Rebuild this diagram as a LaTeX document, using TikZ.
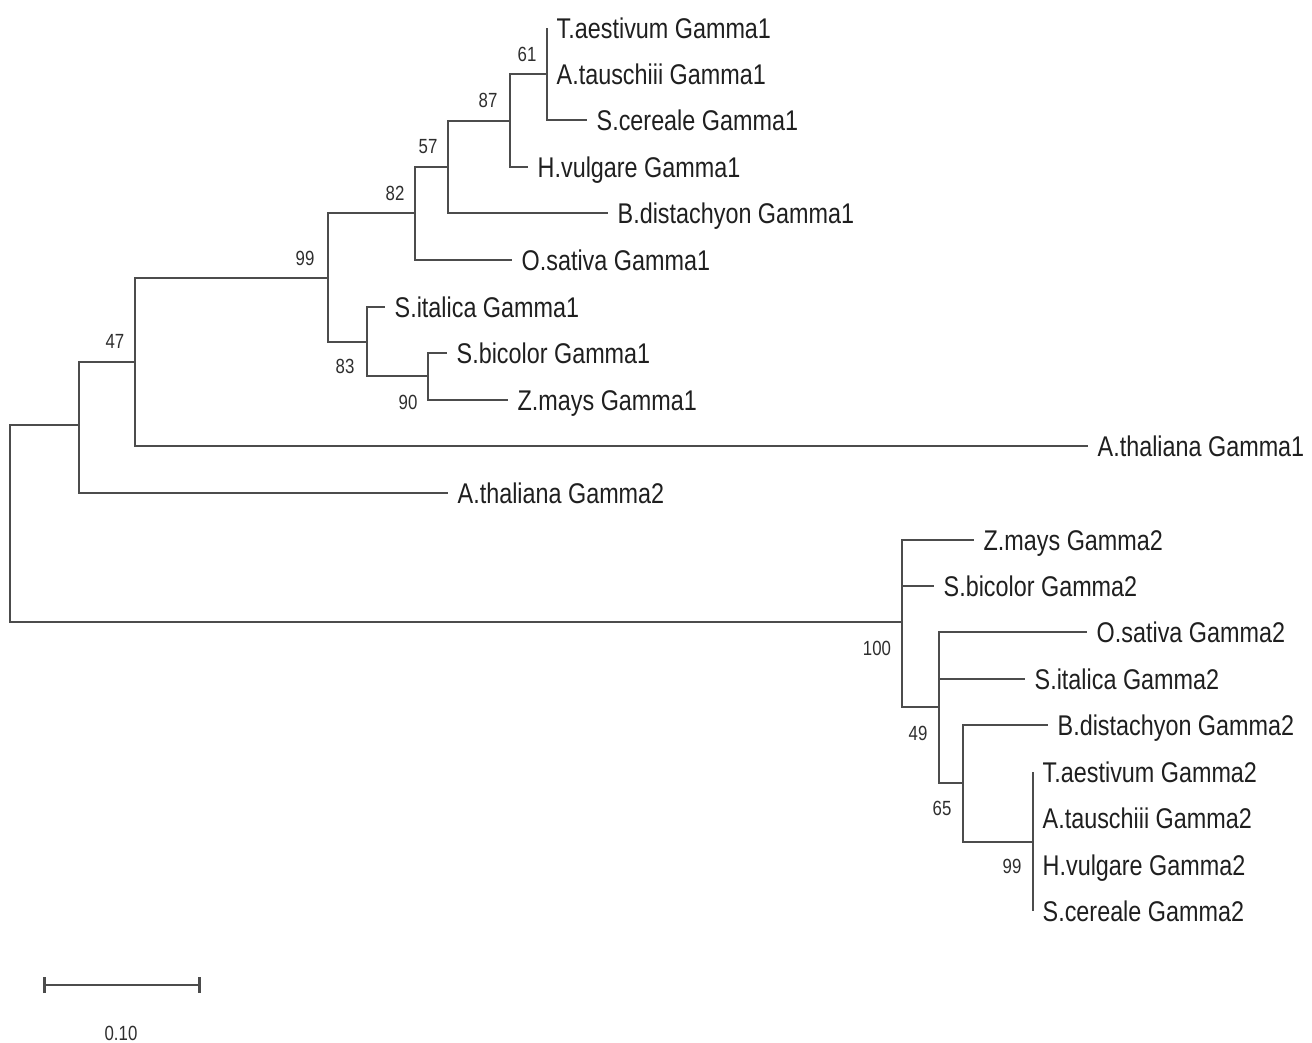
\documentclass[tikz,border=0pt]{standalone}
\usepackage{fontspec}
\setmainfont{Liberation Sans}[FakeStretch=0.82]
\usetikzlibrary{calc,arrows.meta}
\begin{document}
\begin{tikzpicture}[x=1pt,y=-1pt,
  branch/.style={draw=black!70,line width=2.6pt},
  leaf/.style={anchor=west,inner xsep=9.5pt,inner ysep=0pt,text height=20.5pt,text depth=0pt,
    font=\fontsize{28.5pt}{30pt}\selectfont,text=black!88},
  bs/.style={inner sep=0pt,font=\fontsize{20.5pt}{22pt}\selectfont,text=black!82}]
\useasboundingbox (0,0) rectangle (1312,1042);
% internal nodes
\coordinate (root) at (10,523);
\coordinate (nA) at (79,425);
\coordinate (n47) at (135,362);
\coordinate (n99) at (328,278);
\coordinate (n82) at (415,213);
\coordinate (n57) at (448,167);
\coordinate (n87) at (510,121);
\coordinate (n61) at (547,74);
\coordinate (n83) at (367,342);
\coordinate (n90) at (428,376);
\coordinate (n100) at (902,622);
\coordinate (n49) at (939,707);
\coordinate (n65) at (963,783);
\coordinate (n99b) at (1033,842);
% leaves
\node[leaf] (l1) at (547,28) {T.aestivum Gamma1};
\node[leaf] (l2) at (547,74) {A.tauschiii Gamma1};
\node[leaf] (l3) at (587,120) {S.cereale Gamma1};
\node[leaf] (l4) at (528,167) {H.vulgare Gamma1};
\node[leaf] (l5) at (608,213) {B.distachyon Gamma1};
\node[leaf] (l6) at (512,260) {O.sativa Gamma1};
\node[leaf] (l7) at (385,307) {S.italica Gamma1};
\node[leaf] (l8) at (447,353) {S.bicolor Gamma1};
\node[leaf] (l9) at (508,400) {Z.mays Gamma1};
\node[leaf] (l10) at (1088,446) {A.thaliana Gamma1};
\node[leaf] (l11) at (448,493) {A.thaliana Gamma2};
\node[leaf] (m1) at (974,540) {Z.mays Gamma2};
\node[leaf] (m2) at (934,586) {S.bicolor Gamma2};
\node[leaf] (m3) at (1087,632) {O.sativa Gamma2};
\node[leaf] (m4) at (1025,679) {S.italica Gamma2};
\node[leaf] (m5) at (1048,725) {B.distachyon Gamma2};
\node[leaf] (m6) at (1033,772) {T.aestivum Gamma2};
\node[leaf] (m7) at (1033,818) {A.tauschiii Gamma2};
\node[leaf] (m8) at (1033,865) {H.vulgare Gamma2};
\node[leaf] (m9) at (1033,911) {S.cereale Gamma2};
% branches
\draw[branch] (root) |- (nA);
\draw[branch] (root) |- (n100);
\draw[branch] (nA) |- (n47);
\draw[branch] (nA) |- (l11.west);
\draw[branch] (n47) |- (n99);
\draw[branch] (n47) |- (l10.west);
\draw[branch] (n99) |- (n82);
\draw[branch] (n99) |- (n83);
\draw[branch] (n82) |- (n57);
\draw[branch] (n82) |- (l6.west);
\draw[branch] (n57) |- (n87);
\draw[branch] (n57) |- (l5.west);
\draw[branch] (n87) |- (n61);
\draw[branch] (n87) |- (l4.west);
\draw[branch] (n61) |- (l1.west);
\draw[branch] (n61) |- (l2.west);
\draw[branch] (n61) |- (l3.west);
\draw[branch] (n83) |- (l7.west);
\draw[branch] (n83) |- (n90);
\draw[branch] (n90) |- (l8.west);
\draw[branch] (n90) |- (l9.west);
\draw[branch] (n100) |- (m1.west);
\draw[branch] (n100) |- (m2.west);
\draw[branch] (n100) |- (n49);
\draw[branch] (n49) |- (m3.west);
\draw[branch] (n49) |- (m4.west);
\draw[branch] (n49) |- (n65);
\draw[branch] (n65) |- (m5.west);
\draw[branch] (n65) |- (n99b);
\draw[branch] (n99b) |- (m6.west);
\draw[branch] (n99b) |- (m7.west);
\draw[branch] (n99b) |- (m8.west);
\draw[branch] (n99b) |- (m9.west);
% bootstrap values
\node[bs] (b61) at ($(n61)+(-20,-20)$) {61};
\node[bs] (b87) at ($(n87)+(-22,-21)$) {87};
\node[bs] (b57) at ($(n57)+(-20,-20)$) {57};
\node[bs] (b82) at ($(n82)+(-20,-20)$) {82};
\node[bs] (b99) at ($(n99)+(-23,-20)$) {99};
\node[bs] (b47) at ($(n47)+(-20,-21)$) {47};
\node[bs] (b83) at ($(n83)+(-22,24)$) {83};
\node[bs] (b90) at ($(n90)+(-20,26)$) {90};
\node[bs] (b100) at ($(n100)+(-25,26)$) {100};
\node[bs] (b49) at ($(n49)+(-21,26)$) {49};
\node[bs] (b65) at ($(n65)+(-21,25)$) {65};
\node[bs] (b99b) at ($(n99b)+(-21,24)$) {99};
% scale bar
\coordinate (sb1) at (43,985);
\coordinate (sb2) at (201,985);
\draw[branch,{Bar[width=16pt]}-{Bar[width=16pt]}] (sb1) -- (sb2);
\node[bs] (sbl) at (121,1033) {0.10};
\end{tikzpicture}
\end{document}
